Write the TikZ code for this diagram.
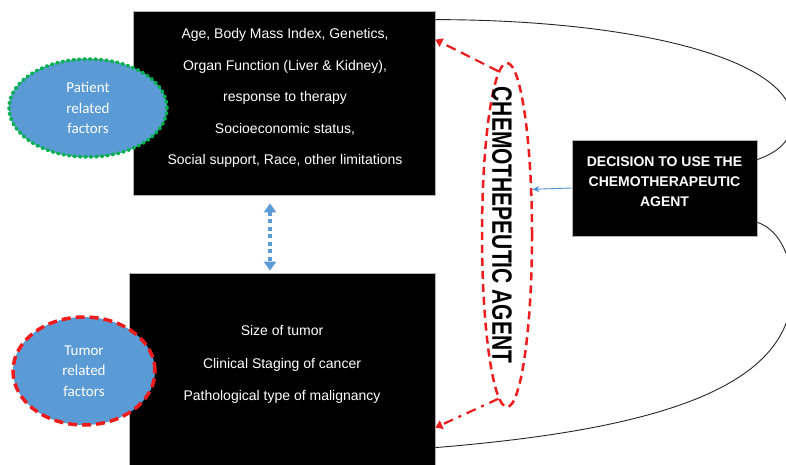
\documentclass[tikz,border=0pt]{standalone}
\usepackage{fontspec}
\usepackage{graphicx}
\setmainfont{Liberation Sans}
\newfontfamily\calib{Carlito}
\usetikzlibrary{arrows.meta,shapes.geometric}
\definecolor{ellblue}{HTML}{5B9BD5}
\definecolor{dotgreen}{HTML}{00B050}
\definecolor{myred}{HTML}{EE1C1C}
\definecolor{linkblue}{HTML}{4A90D9}
\begin{document}
\begin{tikzpicture}[x=1pt,y=-1pt,
  blackbox/.style={draw=gray!60, line width=0.8pt, fill=black, inner sep=0pt},
  boxtext/.style={text=white, align=center},
  factor/.style={ellipse, fill=ellblue, text=white, align=center,
    font=\calib\fontsize{15}{20.5}\selectfont, inner sep=0pt},
  redarrow/.style={draw=myred, line width=2.2pt, -{Triangle[width=9pt,length=7pt]}},
  loopline/.style={draw=gray!30!black, line width=0.9pt}
]
\useasboundingbox (0,0) rectangle (786,465);

% boxes
\node[blackbox, minimum width=302pt, minimum height=184pt] (top) at (284,103) {};
\node[blackbox, minimum width=306pt, minimum height=194pt] (bot) at (282,370) {};
\node[blackbox, minimum width=185pt, minimum height=96pt] (dec) at (664.5,188) {};

% box texts
\node[boxtext, font=\fontsize{14}{31.5}\selectfont] (toptext) at (285,98)
  {Age, Body Mass Index, Genetics,\\Organ Function (Liver \& Kidney),\\response to therapy\\Socioeconomic status,\\Social support, Race, other limitations};
\node[boxtext, font=\fontsize{14}{32.5}\selectfont] (bottext) at (282,364.5)
  {Size of tumor\\Clinical Staging of cancer\\Pathological type of malignancy};
\node[boxtext, font=\bfseries\fontsize{14}{20}\selectfont] (dectext) at (664.5,182)
  {DECISION TO USE THE\\CHEMOTHERAPEUTIC\\AGENT};

% factor ellipses
\node[factor, minimum width=158pt, minimum height=98pt,
  draw=dotgreen, line width=3.5pt, line cap=round, dash pattern=on 1.5pt off 4pt] (pat) at (88,108)
  {Patient\\related\\factors};
\node[factor, minimum width=142pt, minimum height=108pt,
  draw=myred, line width=3.5pt, dash pattern=on 9pt off 5pt] (tum) at (84,371)
  {Tumor\\related\\factors};

% chemotherapeutic agent ellipse
\node[ellipse, minimum width=50pt, minimum height=344pt, inner sep=0pt,
  draw=myred, line width=2.5pt, dash pattern=on 8pt off 5pt] (chem) at (507,235) {};
\node[rotate=-90, font=\bfseries\fontsize{28}{28}\selectfont] (chemtext) at (502,225)
  {\scalebox{0.75}[1]{CHEMOTHEPEUTIC AGENT}};

% red arrows
\draw[redarrow, dash pattern=on 10pt off 6pt] (chem.93) -- ([yshift=-29pt]top.north east);
\draw[redarrow, dash pattern=on 10pt off 6pt on 3pt off 6pt] (chem.267) -- ([yshift=-155pt]bot.north east);

% blue arrow
\draw[draw=linkblue, line width=0.9pt, -{Stealth[length=7pt,width=6pt]}] (dec.west) -- (chem.61);

% blue dotted double arrow
\draw[draw=ellblue, line width=4pt, dash pattern=on 4pt off 3.5pt,
  {Triangle[width=12pt,length=9pt]}-{Triangle[width=12pt,length=9pt]}]
  ([xshift=-14pt,yshift=-8pt]top.south) -- ([xshift=-12pt,yshift=2pt]bot.north);

% black loop lines
\draw[loopline] ([yshift=-9pt]top.north east) .. controls (640,20) and (792,60) .. (792,120)
  .. controls (792,145) and (772,154) .. ([yshift=-20pt]dec.north east);
\draw[loopline] ([yshift=14pt]dec.south east) .. controls (775,228) and (792,250) .. (792,290)
  .. controls (792,390) and (650,430) .. ([yshift=-175pt]bot.north east);
\end{tikzpicture}
\end{document}
